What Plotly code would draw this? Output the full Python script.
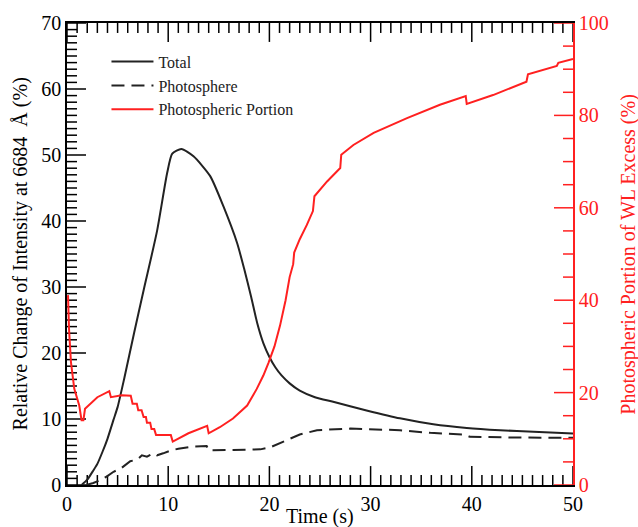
import plotly.graph_objects as go

# Total relative intensity change at 6684 Å (%)
t_total = [1.45, 2.0, 2.6, 3.0, 3.5, 4.0, 4.6, 5.0, 5.65, 6.64, 7.6, 8.9, 9.9, 10.4,
           11.3, 12.5, 14.15, 15.46, 16.8, 17.5, 18.2, 18.8, 19.4, 20.0, 20.6, 21.2,
           22.0, 23.0, 24.5, 26.3, 29.6, 32.9, 36.2, 39.5, 42.8, 46.1, 50.0]
total = [0.0, 0.8, 2.2, 3.2, 5.0, 7.0, 9.9, 11.8, 16.1, 23.1, 29.7, 38.5, 47.3, 50.2,
         50.9, 49.8, 46.8, 42.2, 36.7, 32.8, 28.5, 24.5, 21.5, 19.4, 17.8, 16.6,
         15.4, 14.3, 13.3, 12.6, 11.3, 10.1, 9.2, 8.65, 8.3, 8.05, 7.8]

# Photospheric contribution (%)
t_photo = [1.9, 2.6, 3.3, 3.95, 4.6, 5.4, 6.25, 6.75, 7.0, 7.4, 7.9, 8.55, 8.9, 9.5,
           10.2, 11.0, 12.3, 13.8, 14.0, 16.4, 19.1, 20.07, 21.7, 23.0, 24.7, 28.0,
           32.9, 35.9, 39.3, 39.8, 44.1, 50.0]
photosphere = [0.0, 0.3, 0.75, 1.3, 2.0, 2.6, 3.6, 3.8, 3.9, 4.5, 4.3, 4.8, 4.5, 4.8,
               5.2, 5.5, 5.8, 5.9, 5.25, 5.3, 5.4, 5.7, 6.8, 7.65, 8.3, 8.55,
               8.3, 7.9, 7.65, 7.3, 7.2, 7.15]

# Photospheric portion of the white-light excess (%)
t_portion = [0.1, 0.2, 0.39, 0.72, 1.21, 1.44, 1.62, 1.78, 3.0, 4.18, 4.34, 5.4, 6.3,
             6.48, 6.9, 7.04, 7.37, 7.57, 7.8, 7.9, 8.22, 8.35, 8.62, 8.8, 10.26,
             10.45, 12.0, 13.85, 14.0, 15.1, 16.4, 17.8, 18.75, 19.4, 19.9, 20.5,
             21.05, 21.6, 22.0, 22.35, 22.45, 23.0, 23.7, 24.3, 24.45, 25.7, 27.0,
             27.1, 28.3, 30.3, 33.6, 36.85, 39.4, 39.5, 42.1, 45.4, 45.55, 48.4,
             48.55, 50.0]
portion = [41.1, 33.8, 26.6, 20.8, 17.2, 14.0, 14.0, 16.5, 19.0, 20.3, 19.0, 19.4, 19.3,
           17.6, 17.6, 16.2, 16.2, 14.7, 14.7, 13.5, 13.5, 12.1, 12.1, 10.8, 10.8,
           9.4, 11.2, 12.8, 11.2, 12.5, 14.4, 17.2, 20.8, 23.7, 26.4, 30.0,
           34.5, 40.0, 45.0, 47.8, 50.3, 53.2, 56.3, 59.3, 62.5, 65.7, 68.6,
           71.5, 73.6, 76.2, 79.4, 82.3, 84.2, 82.5, 84.4, 87.3, 88.9, 90.7,
           91.4, 92.2]

x_ticks = [0, 10, 20, 30, 40, 50]
y_ticks = [0, 10, 20, 30, 40, 50, 60, 70]
y2_ticks = [0, 20, 40, 60, 80, 100]

SERIF = "Liberation Serif, Times New Roman, serif"
DARK = "#222222"
RED = "#ff2020"
WIDTH, HEIGHT = 638, 527
MARGIN = dict(l=67, r=65, t=23, b=40)
PLOT_W = WIDTH - MARGIN["l"] - MARGIN["r"]
PLOT_H = HEIGHT - MARGIN["t"] - MARGIN["b"]
MAJOR_LEN, MINOR_LEN, TICK_W = 19, 10, 1.5


def subdivide(ticks, step):
    """Minor tick positions between the labelled ticks."""
    n = int(round((ticks[-1] - ticks[0]) / step))
    vals = [ticks[0] + i * step for i in range(n + 1)]
    return [v for v in vals if v not in ticks]


def px_to_units(px, ticks, span_px):
    """Convert a length in pixels into axis units for an axis spanning the tick list."""
    return px * (ticks[-1] - ticks[0]) / span_px


def frame_tick_path(pos_ticks, minor_step, edge_ticks, span_px, edges, vertical):
    """Polyline (broken by None) of inward major/minor ticks along frame edges."""
    a, b = [], []
    for vals, length in ((pos_ticks, MAJOR_LEN), (subdivide(pos_ticks, minor_step), MINOR_LEN)):
        d = px_to_units(length, edge_ticks, span_px)
        for v in vals:
            for edge, sign in edges:
                a += [v, v, None]
                b += [edge, edge + sign * d, None]
    return (a, b) if vertical else (b, a)


# bottom and top edges: ticks along x, pointing into the plot
xt_x, xt_y = frame_tick_path(x_ticks, 1, y_ticks, PLOT_H,
                             [(y_ticks[0], 1), (y_ticks[-1], -1)], vertical=True)
# left edge, left-hand scale
yt_x, yt_y = frame_tick_path(y_ticks, 1, x_ticks, PLOT_W,
                             [(x_ticks[0], 1)], vertical=False)
# right edge, right-hand scale
y2t_x, y2t_y = frame_tick_path(y2_ticks, 5, x_ticks, PLOT_W,
                               [(x_ticks[-1], -1)], vertical=False)

fig = go.Figure()
tick_style = dict(mode="lines", showlegend=False, hoverinfo="skip", cliponaxis=False)
fig.add_trace(go.Scatter(x=xt_x, y=xt_y, line=dict(color="black", width=TICK_W),
                         **tick_style))
fig.add_trace(go.Scatter(x=yt_x, y=yt_y, line=dict(color="black", width=TICK_W),
                         **tick_style))

fig.add_trace(go.Scatter(x=t_total, y=total, mode="lines", name="Total",
                         line=dict(color=DARK, width=2, shape="spline", smoothing=0.6)))
fig.add_trace(go.Scatter(x=t_photo, y=photosphere, mode="lines", name="Photosphere",
                         line=dict(color=DARK, width=2, dash="13px,7px")))
fig.add_trace(go.Scatter(x=t_portion, y=portion, mode="lines", name="Photospheric Portion",
                         yaxis="y2", line=dict(color=RED, width=2)))
fig.add_trace(go.Scatter(x=y2t_x, y=y2t_y, yaxis="y2", line=dict(color=RED, width=TICK_W),
                         **tick_style))


def frame_axis(ticks, color):
    return dict(range=[ticks[0], ticks[-1]], tickvals=ticks, ticks="",
                showline=True, linewidth=1.5, linecolor=color,
                showgrid=False, zeroline=False,
                tickfont=dict(family=SERIF, size=20, color=color))


fig.update_layout(
    width=WIDTH, height=HEIGHT,
    margin=MARGIN,
    paper_bgcolor="white", plot_bgcolor="white",
    font=dict(family=SERIF, size=20, color="black"),
    showlegend=True,
    legend=dict(x=0.078, y=0.953, xanchor="left", yanchor="top",
                bgcolor="rgba(0,0,0,0)", borderwidth=0,
                font=dict(family=SERIF, size=16, color=DARK),
                itemwidth=42, tracegroupgap=0),
    xaxis=dict(mirror=True, **frame_axis(x_ticks, "black")),
    yaxis=frame_axis(y_ticks, "black"),
    yaxis2=dict(overlaying="y", side="right", **frame_axis(y2_ticks, RED)),
    annotations=[
        dict(text="Time (s)", xref="paper", yref="paper", x=0.5, y=-0.068,
             xanchor="center", yanchor="middle", showarrow=False,
             font=dict(family=SERIF, size=20, color="black")),
        dict(text="Relative Change of Intensity at 6684  Å (%)", xref="paper",
             yref="paper", x=-0.092, y=0.5, xanchor="center", yanchor="middle",
             textangle=-90, showarrow=False,
             font=dict(family=SERIF, size=20, color="black")),
        dict(text="Photospheric Portion of WL Excess (%)", xref="paper",
             yref="paper", x=1.108, y=0.5, xanchor="center", yanchor="middle",
             textangle=-90, showarrow=False,
             font=dict(family=SERIF, size=20, color=RED)),
    ],
)

fig.write_html("out.html")
